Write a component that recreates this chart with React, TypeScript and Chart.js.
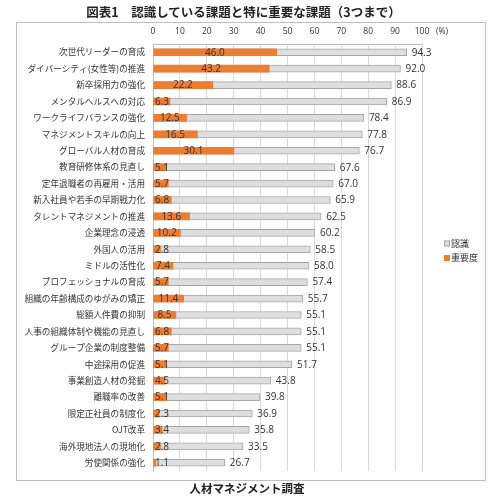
import React, { useEffect, useRef } from 'react';
import { Chart, registerables } from 'chart.js';
Chart.register(...registerables);

const categories = [
  '次世代リーダーの育成',
  'ダイバーシティ(女性等)の推進',
  '新卒採用力の強化',
  'メンタルヘルスへの対応',
  'ワークライフバランスの強化',
  'マネジメントスキルの向上',
  'グローバル人材の育成',
  '教育研修体系の見直し',
  '定年退職者の再雇用・活用',
  '新入社員や若手の早期戦力化',
  'タレントマネジメントの推進',
  '企業理念の浸透',
  '外国人の活用',
  'ミドルの活性化',
  'プロフェッショナルの育成',
  '組織の年齢構成のゆがみの矯正',
  '総額人件費の抑制',
  '人事の組織体制や機能の見直し',
  'グループ企業の制度整備',
  '中途採用の促進',
  '事業創造人材の発掘',
  '離職率の改善',
  '限定正社員の制度化',
  'OJT改革',
  '海外現地法人の現地化',
  '労使関係の強化',
];

const recognition = [94.3, 92.0, 88.6, 86.9, 78.4, 77.8, 76.7, 67.6, 67.0, 65.9, 62.5, 60.2, 58.5, 58.0, 57.4, 55.7, 55.1, 55.1, 55.1, 51.7, 43.8, 39.8, 36.9, 35.8, 33.5, 26.7];
const importance = [46.0, 43.2, 22.2, 6.3, 12.5, 16.5, 30.1, 5.1, 5.7, 6.8, 13.6, 10.2, 2.8, 7.4, 5.7, 11.4, 8.5, 6.8, 5.7, 5.1, 4.5, 5.1, 2.3, 3.4, 2.8, 1.1];

const seriesNames = ['認識', '重要度'];
const axisMin = 0;
const axisMax = 100;
const axisStep = 10;
const unitLabel = '(%)';
const titleText = '図表1　認識している課題と特に重要な課題（3つまで）';
const footerText = '人材マネジメント調査';

const JP = '"Noto Sans CJK JP", "Noto Sans", sans-serif';
const NUM = '"Open Sans", "Noto Sans", sans-serif';
const GRAY_FILL = '#dedede';
const GRAY_BORDER = '#a6a6a6';
const ORANGE = '#ed7d31';
const TEXT = '#333333';

const extrasPlugin = {
  id: 'extras',
  afterDatasetsDraw(chart: any) {
    const ctx = chart.ctx;
    const xs = chart.scales.x;
    const base = xs.getPixelForValue(0);
    ctx.save();
    ctx.font = `10px ${NUM}`;
    ctx.fillStyle = TEXT;
    ctx.textBaseline = 'middle';
    const m0 = chart.getDatasetMeta(0);
    m0.data.forEach((bar: any, i: number) => {
      ctx.textAlign = 'left';
      ctx.fillText(recognition[i].toFixed(1), bar.x + 5, bar.y + 0.5);
    });
    const m1 = chart.getDatasetMeta(1);
    m1.data.forEach((bar: any, i: number) => {
      const t = importance[i].toFixed(1);
      const w = ctx.measureText(t).width;
      const cx = Math.max((base + bar.x) / 2, base + 2 + w / 2);
      ctx.textAlign = 'center';
      ctx.fillText(t, cx, bar.y + 0.5);
    });
    // unit label
    ctx.font = `8.5px ${NUM}`;
    ctx.textAlign = 'left';
    ctx.fillStyle = TEXT;
    ctx.fillText(unitLabel, xs.right + 14, 32);
    // legend
    const lx = 444;
    const ly = [243.5, 258];
    ctx.font = `9px ${JP}`;
    ctx.lineWidth = 1;
    ctx.fillStyle = GRAY_FILL;
    ctx.fillRect(lx, ly[0] - 3, 6, 6);
    ctx.strokeStyle = GRAY_BORDER;
    ctx.strokeRect(lx + 0.5, ly[0] - 2.5, 5, 5);
    ctx.fillStyle = ORANGE;
    ctx.fillRect(lx, ly[1] - 3, 6, 6);
    ctx.fillStyle = TEXT;
    ctx.textAlign = 'left';
    ctx.fillText(seriesNames[0], lx + 7, ly[0]);
    ctx.fillText(seriesNames[1], lx + 7, ly[1]);
    ctx.restore();
  },
};

export default function App() {
  const ref = useRef<HTMLCanvasElement>(null);
  useEffect(() => {
    if (!ref.current) return;
    const chart = new Chart(ref.current, {
      type: 'bar',
      data: {
        labels: categories,
        datasets: [
          {
            label: seriesNames[0],
            data: recognition,
            backgroundColor: GRAY_FILL,
            borderColor: GRAY_BORDER,
            borderWidth: 1,
            barThickness: 7,
            grouped: false,
            order: 2,
          } as any,
          {
            label: seriesNames[1],
            data: importance,
            backgroundColor: ORANGE,
            borderWidth: 0,
            barThickness: 7,
            grouped: false,
            order: 1,
          } as any,
        ],
      },
      options: {
        indexAxis: 'y',
        responsive: false,
        animation: false,
        devicePixelRatio: 1,
        layout: { padding: { left: 16, top: 22, bottom: 27, right: 78 } },
        plugins: {
          legend: { display: false },
          tooltip: { enabled: false },
          title: { display: false },
        },
        scales: {
          x: {
            position: 'top',
            min: axisMin,
            max: axisMax,
            ticks: {
              stepSize: axisStep,
              font: { size: 8.5, family: NUM },
              color: TEXT,
              padding: 7,
            },
            grid: { color: '#d9d9d9', drawTicks: false },
            border: { display: true, color: '#bfbfbf' },
            afterFit: (s: any) => { s.height = 22; },
          },
          y: {
            ticks: {
              font: { size: 8.6, family: JP },
              color: TEXT,
              padding: 8,
              autoSkip: false,
            },
            grid: { display: false, drawTicks: false },
            border: { display: true, color: '#bfbfbf' },
            afterFit: (s: any) => { s.width = 137; },
          },
        },
      } as any,
      plugins: [extrasPlugin],
    });
    return () => chart.destroy();
  }, []);

  return (
    <div style={{ position: 'fixed', left: 0, top: 0, width: 500, height: 498, background: '#fff', overflow: 'hidden' }}>
      <div style={{ position: 'absolute', left: 16, top: 22, width: 470, height: 459, boxSizing: 'border-box', border: '1px solid #bfbfbf' }} />
      <canvas ref={ref} width={500} height={498} style={{ position: 'absolute', left: 0, top: 0, width: 500, height: 498 }} />
      <div style={{ position: 'absolute', left: 0, top: 3, width: 487, textAlign: 'center', font: `bold 12.5px ${JP}`, lineHeight: '18px', color: '#222' }}>{titleText}</div>
      <div style={{ position: 'absolute', left: 0, top: 480, width: 494, textAlign: 'center', font: `bold 11.5px ${JP}`, lineHeight: '16px', color: '#222' }}>{footerText}</div>
    </div>
  );
}
